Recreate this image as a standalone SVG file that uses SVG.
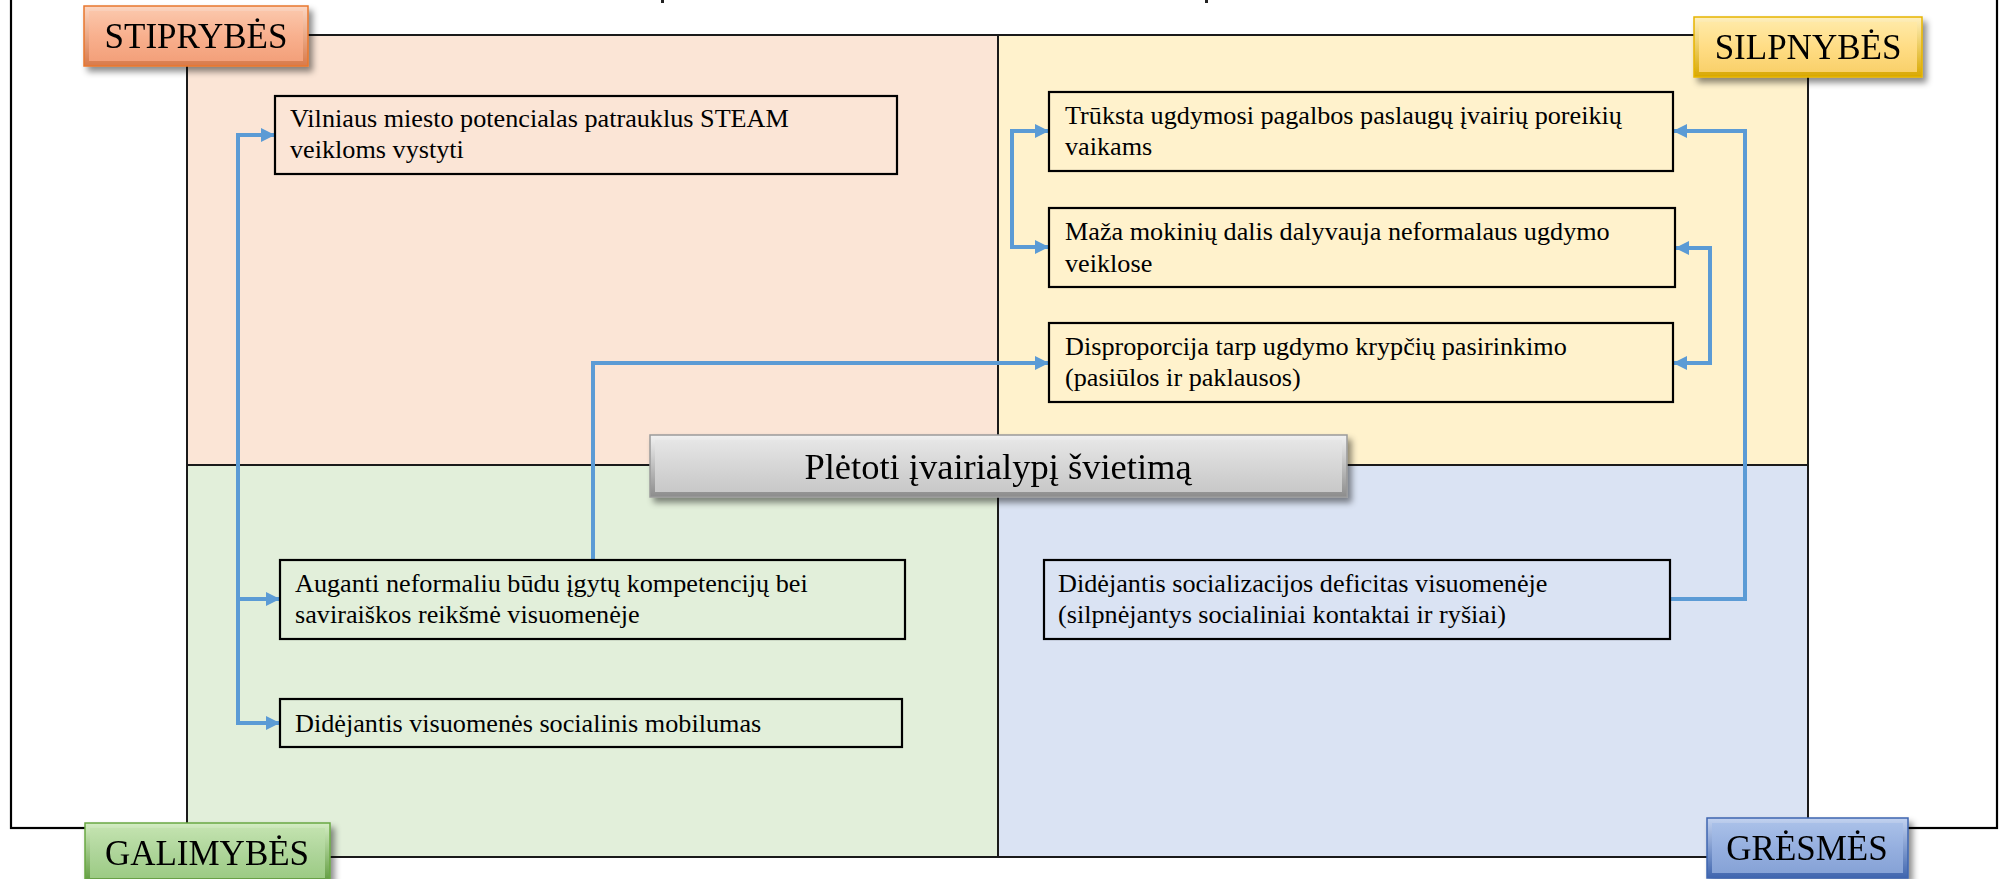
<svg xmlns="http://www.w3.org/2000/svg" width="2002" height="879" viewBox="0 0 2002 879">
<style>
.quad{stroke:#1a1a1a;stroke-width:2}
.box{fill:none;stroke:#000;stroke-width:2.2}
.txt{font-family:"Liberation Serif","Times New Roman",serif;font-size:26.2px;fill:#000}
.lbl{font-family:"Liberation Serif","Times New Roman",serif;font-size:35px;fill:#000;text-anchor:middle}
.con{fill:none;stroke:#5B9BD5;stroke-width:4}
</style>
<defs>
<marker id="arr" viewBox="0 0 10 10" refX="10" refY="5" markerWidth="3.5" markerHeight="3.5" orient="auto-start-reverse">
<path d="M0,0 L10,5 L0,10 z" fill="#5B9BD5"/>
</marker>
<filter id="sh" x="-10%" y="-20%" width="130%" height="160%">
<feDropShadow dx="4" dy="5" stdDeviation="3" flood-color="#000" flood-opacity="0.45"/>
</filter>
<linearGradient id="gOr" x1="0" y1="0" x2="0" y2="1"><stop offset="0" stop-color="#FBC6AA"/><stop offset="0.5" stop-color="#F8B08E"/><stop offset="1" stop-color="#F3A07A"/></linearGradient>
<linearGradient id="gOrE" x1="0" y1="0" x2="0" y2="1"><stop offset="0" stop-color="#FCD6C2"/><stop offset="1" stop-color="#D97A4A"/></linearGradient>
<linearGradient id="gYe" x1="0" y1="0" x2="0" y2="1"><stop offset="0" stop-color="#FFE9A6"/><stop offset="0.5" stop-color="#FFDD85"/><stop offset="1" stop-color="#F9D06A"/></linearGradient>
<linearGradient id="gYeE" x1="0" y1="0" x2="0" y2="1"><stop offset="0" stop-color="#FFF0C0"/><stop offset="1" stop-color="#D9A800"/></linearGradient>
<linearGradient id="gGr" x1="0" y1="0" x2="0" y2="1"><stop offset="0" stop-color="#C2E2AE"/><stop offset="0.5" stop-color="#AED59A"/><stop offset="1" stop-color="#9CCB84"/></linearGradient>
<linearGradient id="gGrE" x1="0" y1="0" x2="0" y2="1"><stop offset="0" stop-color="#D4EDC4"/><stop offset="1" stop-color="#5E9A3C"/></linearGradient>
<linearGradient id="gBl" x1="0" y1="0" x2="0" y2="1"><stop offset="0" stop-color="#A9C0E8"/><stop offset="0.5" stop-color="#95AFDF"/><stop offset="1" stop-color="#86A2D6"/></linearGradient>
<linearGradient id="gBlE" x1="0" y1="0" x2="0" y2="1"><stop offset="0" stop-color="#C3D3F0"/><stop offset="1" stop-color="#3F65AE"/></linearGradient>
<linearGradient id="gGy" x1="0" y1="0" x2="0" y2="1"><stop offset="0" stop-color="#E6E6E6"/><stop offset="0.5" stop-color="#D6D6D6"/><stop offset="1" stop-color="#C8C8C8"/></linearGradient>
<linearGradient id="gGyE" x1="0" y1="0" x2="0" y2="1"><stop offset="0" stop-color="#F2F2F2"/><stop offset="1" stop-color="#8C8C8C"/></linearGradient>
</defs>

<g id="frame">
<rect x="11" y="-20" width="1986" height="848" fill="none" stroke="#000" stroke-width="2.2"/>
<rect x="661" y="0" width="3" height="3" fill="#222"/>
<rect x="1205" y="0" width="3" height="3" fill="#222"/>
</g>

<g id="quadrants">
<rect id="q-strengths" class="quad" x="187" y="35" width="811" height="430" fill="#FBE5D6"/>
<rect id="q-weaknesses" class="quad" x="998" y="35" width="810" height="430" fill="#FFF2CC"/>
<rect id="q-opportunities" class="quad" x="187" y="465" width="811" height="392" fill="#E2EFDA"/>
<rect id="q-threats" class="quad" x="998" y="465" width="810" height="392" fill="#DAE3F3"/>
</g>

<g id="connectors">
<path class="con" d="M238,599 L238,135 L275,135" marker-end="url(#arr)"/>
<path class="con" d="M238,599 L280,599" marker-end="url(#arr)"/>
<path class="con" d="M238,597 L238,723 L280,723" marker-end="url(#arr)"/>
<path class="con" d="M593,560 L593,363 L1049,363" marker-end="url(#arr)"/>
<path class="con" d="M1049,131 L1012,131 L1012,247 L1049,247" marker-start="url(#arr)" marker-end="url(#arr)"/>
<path class="con" d="M1670,599 L1745,599 L1745,131 L1673,131" marker-end="url(#arr)"/>
<path class="con" d="M1675,248 L1710,248 L1710,363 L1673,363" marker-start="url(#arr)" marker-end="url(#arr)"/>
</g>

<g id="n-vilnius">
<rect class="box" x="275" y="96" width="622" height="78"/>
<text class="txt" x="290" y="127">Vilniaus miesto potencialas patrauklus STEAM</text>
<text class="txt" x="290" y="158">veikloms vystyti</text>
</g>
<g id="n-truksta">
<rect class="box" x="1049" y="92" width="624" height="79"/>
<text class="txt" x="1065" y="124">Trūksta ugdymosi pagalbos paslaugų įvairių poreikių</text>
<text class="txt" x="1065" y="155">vaikams</text>
</g>
<g id="n-maza">
<rect class="box" x="1049" y="208" width="626" height="79"/>
<text class="txt" x="1065" y="240">Maža mokinių dalis dalyvauja neformalaus ugdymo</text>
<text class="txt" x="1065" y="272">veiklose</text>
</g>
<g id="n-disproporcija">
<rect class="box" x="1049" y="323" width="624" height="79"/>
<text class="txt" x="1065" y="355">Disproporcija tarp ugdymo krypčių pasirinkimo</text>
<text class="txt" x="1065" y="386">(pasiūlos ir paklausos)</text>
</g>
<g id="n-auganti">
<rect class="box" x="280" y="560" width="625" height="79"/>
<text class="txt" x="295" y="592">Auganti neformaliu būdu įgytų kompetencijų bei</text>
<text class="txt" x="295" y="623">saviraiškos reikšmė visuomenėje</text>
</g>
<g id="n-mobilumas">
<rect class="box" x="280" y="699" width="622" height="48"/>
<text class="txt" x="295" y="732">Didėjantis visuomenės socialinis mobilumas</text>
</g>
<g id="n-deficitas">
<rect class="box" x="1044" y="560" width="626" height="79"/>
<text class="txt" x="1058" y="592">Didėjantis socializacijos deficitas visuomenėje</text>
<text class="txt" x="1058" y="623">(silpnėjantys socialiniai kontaktai ir ryšiai)</text>
</g>

<g id="l-stiprybes" filter="url(#sh)">
<rect x="84" y="6" width="224" height="60" fill="url(#gOrE)" stroke="#E8772E" stroke-width="1.5"/>
<rect x="89" y="11" width="214" height="50" fill="url(#gOr)"/>
<text class="lbl" x="196" y="48">STIPRYBĖS</text>
</g>
<g id="l-silpnybes" filter="url(#sh)">
<rect x="1694" y="17" width="228" height="60" fill="url(#gYeE)" stroke="#E6B400" stroke-width="1.5"/>
<rect x="1699" y="22" width="218" height="50" fill="url(#gYe)"/>
<text class="lbl" x="1808" y="59">SILPNYBĖS</text>
</g>
<g id="l-galimybes" filter="url(#sh)">
<rect x="85" y="823" width="245" height="60" fill="url(#gGrE)" stroke="#6AA843" stroke-width="1.5"/>
<rect x="90" y="828" width="235" height="50" fill="url(#gGr)"/>
<text class="lbl" x="207" y="865">GALIMYBĖS</text>
</g>
<g id="l-gresmes" filter="url(#sh)">
<rect x="1707" y="818" width="201" height="60" fill="url(#gBlE)" stroke="#3F66B0" stroke-width="1.5"/>
<rect x="1712" y="823" width="191" height="50" fill="url(#gBl)"/>
<text class="lbl" x="1807" y="860">GRĖSMĖS</text>
</g>
<g id="n-center" filter="url(#sh)">
<rect x="650" y="435" width="697" height="62" fill="url(#gGyE)" stroke="#9A9A9A" stroke-width="1.5"/>
<rect x="655" y="440" width="687" height="52" fill="url(#gGy)"/>
<text class="lbl" x="998" y="479" style="font-size:36.5px">Plėtoti įvairialypį švietimą</text>
</g>
</svg>
